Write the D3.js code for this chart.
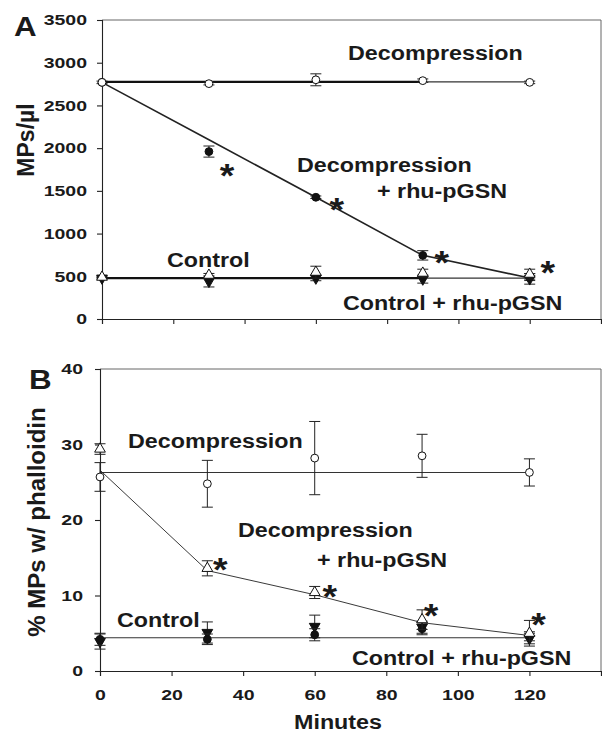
<!DOCTYPE html>
<html>
<head>
<meta charset="utf-8">
<script src="https://cdn.jsdelivr.net/npm/d3@7"></script>
<style>
  body { margin: 0; background: #fff; }
  text { font-family: "Liberation Sans", Arial, sans-serif; font-weight: bold; fill: #1a1a1a; }
</style>
</head>
<body>
<div id="chart"></div>
<script>
// Sampling times (minutes)
const minutes = [0, 30, 60, 90, 120];
const xTicks = [0, 20, 40, 60, 80, 100, 120, 140];
const xTickLabels = ["0", "20", "40", "60", "80", "100", "120", ""];

// Panel A: MPs/µl
const yTicksA = [0, 500, 1000, 1500, 2000, 2500, 3000, 3500];
const decompA = [2770, 2755, 2800, 2790, 2770];
const decompAErr = [15, 15, 70, 20, 15];
const decompRhuA = [2770, 1960, 1425, 745, 490];
const decompRhuAErr = [0, 65, 15, 55, 40];
const ctrlA = [478, 440, 478, 467, 470];
const ctrlAErr = [10, 65, 30, 47, 62];
const ctrlRhuA = [490, 513, 548, 537, 525];
const ctrlRhuAErr = [10, 20, 70, 46, 58];
const decompRhuFitA = [2770, 2098, 1425, 745, 480];
const decompMeanA = 2775;
const ctrlMeanA = 478;
const starMinutesA = [30, 60, 90, 120];

// Panel B: % MPs w/ phalloidin
const yTicksB = [0, 10, 20, 30, 40];
const decompB = [25.7, 24.8, 28.2, 28.5, 26.3];
const decompBErr = [1.9, 3.1, 4.85, 2.85, 1.8];
const decompRhuB = [29.4, 13.6, 10.4, 6.8, 5.0];
const decompRhuBErr = [0.7, 1.0, 0.8, 1.3, 1.7];
const ctrlB = [3.9, 5.1, 5.9, 5.8, 4.3];
const ctrlBErr = [1.0, 1.4, 1.5, 0.8, 0.7];
const ctrlRhuB = [4.2, 4.2, 4.8, 5.6, 4.6];
const ctrlRhuBErr = [0.8, 0.7, 0.8, 0.8, 0.6];
const decompRhuFitB = [26.6, 13.3, 10.1, 6.4, 4.7];
const decompMeanB = 26.3;
const ctrlMeanB = 4.4;
const starMinutesB = [30, 60, 90, 120];

const width = 602, height = 735;
const svg = d3.select("#chart").append("svg")
    .attr("width", width)
    .attr("height", height);

// text is a bit wide in the original, so stretch it horizontally
function label(txt, x, y, size, sx) {
    return svg.append("text")
        .attr("transform", `translate(${x},${y}) scale(${sx},1)`)
        .attr("font-size", size)
        .text(txt);
}

function series(vals, errs) {
    return minutes.map((m, i) => ({ m, v: vals[i], e: errs[i] }));
}

function drawPanel(p) {
    const x = d3.scaleLinear().domain([0, 140]).range([p.left, 601]);
    const y = d3.scaleLinear().domain([0, p.yMax]).range([p.bottom, p.top]);
    const g = svg.append("g");

    // frame (top + right)
    g.append("path")
        .attr("d", `M${x(0)},${y(p.yMax)}H${x(140)}V${y(0)}`)
        .attr("fill", "none").attr("stroke", "#666").attr("stroke-width", 1);

    // axes
    const ya = g.append("g").attr("transform", `translate(${x(0)},0)`)
        .call(d3.axisLeft(y).tickValues(p.yTicks).tickSize(5).tickFormat(d3.format("d")));
    ya.selectAll("text")
        .attr("font-size", 15).attr("x", null)
        .attr("transform", `translate(${-p.yLabGap},0) scale(1.3,1)`);

    const xa = g.append("g").attr("transform", `translate(0,${y(0)})`)
        .call(d3.axisBottom(x).tickValues(xTicks).tickSize(5)
            .tickFormat((d, i) => p.xLabels ? xTickLabels[i] : ""));
    xa.selectAll("text")
        .attr("font-size", 15).attr("y", null).attr("dy", null)
        .attr("transform", "translate(0,29) scale(1.3,1)");
    g.selectAll(".domain, .tick line").attr("stroke", "#222").attr("stroke-width", 1.1);
    g.selectAll(".tick text").attr("fill", "#1a1a1a");

    // mean lines (thicker where two fits overlap)
    p.means.forEach(mv => {
        g.append("line").attr("x1", x(0)).attr("x2", x(120))
            .attr("y1", y(mv)).attr("y2", y(mv))
            .attr("stroke", "#333").attr("stroke-width", p.meanW);
        if (p.overlap) {
            g.append("line").attr("x1", x(0)).attr("x2", x(90))
                .attr("y1", y(mv)).attr("y2", y(mv))
                .attr("stroke", "#111").attr("stroke-width", 2.2);
        }
    });

    // decreasing fit
    const line = d3.line().x((d, i) => x(minutes[i])).y(d => y(d));
    g.append("path").datum(p.fit)
        .attr("d", line).attr("fill", "none")
        .attr("stroke", "#222").attr("stroke-width", p.fitW);

    // error bars + markers
    p.groups.forEach(s => {
        const data = series(s.vals, s.errs);
        const eb = g.append("g").attr("stroke", "#222").attr("stroke-width", 1);
        data.filter(d => d.e > 0).forEach(d => {
            const cx = x(d.m);
            eb.append("line").attr("x1", cx).attr("x2", cx)
                .attr("y1", y(d.v - d.e)).attr("y2", y(d.v + d.e));
            [d.v - d.e, d.v + d.e].forEach(v => {
                eb.append("line").attr("x1", cx - 5.5).attr("x2", cx + 5.5)
                    .attr("y1", y(v)).attr("y2", y(v));
            });
        });
        const sym = d3.symbol().type(s.shape === "circle" ? d3.symbolCircle : d3.symbolTriangle)
            .size(s.shape === "circle" ? 48 : 50);
        g.append("g").selectAll("path").data(data).join("path")
            .attr("d", sym)
            .attr("transform", d => `translate(${x(d.m)},${y(d.v)})` + (s.shape === "down" ? " rotate(180)" : ""))
            .attr("fill", s.filled ? "#111" : "#fff")
            .attr("stroke", "#111").attr("stroke-width", 1);
    });

    // significance asterisks
    p.stars.forEach((m, i) => {
        const k = minutes.indexOf(m);
        const fs = 34;
        svg.append("text")
            .attr("transform", `translate(${x(m) + p.starOff[i][0]},${y(p.starVals[k]) + p.starOff[i][1] + 0.57 * fs}) scale(1.1,1)`)
            .attr("text-anchor", "middle")
            .attr("font-size", fs)
            .text("*");
    });
}

drawPanel({
    left: 102, top: 20, bottom: 319, yMax: 3500, yTicks: yTicksA, yLabGap: 15, xLabels: false,
    means: [decompMeanA, ctrlMeanA], meanW: 1.2, overlap: true,
    fit: decompRhuFitA, fitW: 1.6,
    groups: [
        { vals: decompRhuA, errs: decompRhuAErr, shape: "circle", filled: true },
        { vals: ctrlA, errs: ctrlAErr, shape: "down", filled: true },
        { vals: ctrlRhuA, errs: ctrlRhuAErr, shape: "up", filled: false },
        { vals: decompA, errs: decompAErr, shape: "circle", filled: false }
    ],
    stars: starMinutesA, starVals: decompRhuA,
    starOff: [[18, 16], [21, 4], [19, -1], [18, -13]]
});

drawPanel({
    left: 100, top: 369, bottom: 671, yMax: 40, yTicks: yTicksB, yLabGap: 17, xLabels: true,
    means: [decompMeanB, ctrlMeanB], meanW: 1.1, overlap: false,
    fit: decompRhuFitB, fitW: 0.9,
    groups: [
        { vals: ctrlB, errs: ctrlBErr, shape: "down", filled: true },
        { vals: ctrlRhuB, errs: ctrlRhuBErr, shape: "circle", filled: true },
        { vals: decompB, errs: decompBErr, shape: "circle", filled: false },
        { vals: decompRhuB, errs: decompRhuBErr, shape: "up", filled: false }
    ],
    stars: starMinutesB, starVals: decompRhuB,
    starOff: [[13, -7], [15, -4], [9, -12], [9, -17]]
});

// panel letters
label("A", 14, 36, 28, 1.12);
label("B", 29, 389, 28, 1.12);

// axis titles
svg.append("text").attr("transform", "translate(34,140) rotate(-90)")
    .attr("text-anchor", "middle").attr("font-size", 23).text("MPs/µl");
svg.append("text").attr("transform", "translate(45,522) rotate(-90)")
    .attr("text-anchor", "middle").attr("font-size", 24).text("% MPs w/ phalloidin");
svg.append("text").attr("transform", "translate(338,729) scale(1.11,1)")
    .attr("text-anchor", "middle").attr("font-size", 21).text("Minutes");

// group annotations, panel A
label("Decompression", 348, 60, 21, 1.11);
label("Decompression", 297, 172, 21, 1.11);
label("+ rhu-pGSN", 377, 198, 21, 1.11);
label("Control", 167, 267, 21, 1.11);
label("Control + rhu-pGSN", 343, 310, 21, 1.11);

// group annotations, panel B
label("Decompression", 128, 448, 21, 1.11);
label("Decompression", 238, 537, 21, 1.11);
label("+ rhu-pGSN", 317, 567, 21, 1.11);
label("Control", 117, 627, 21, 1.11);
label("Control + rhu-pGSN", 352, 665, 21, 1.11);
</script>
</body>
</html>
